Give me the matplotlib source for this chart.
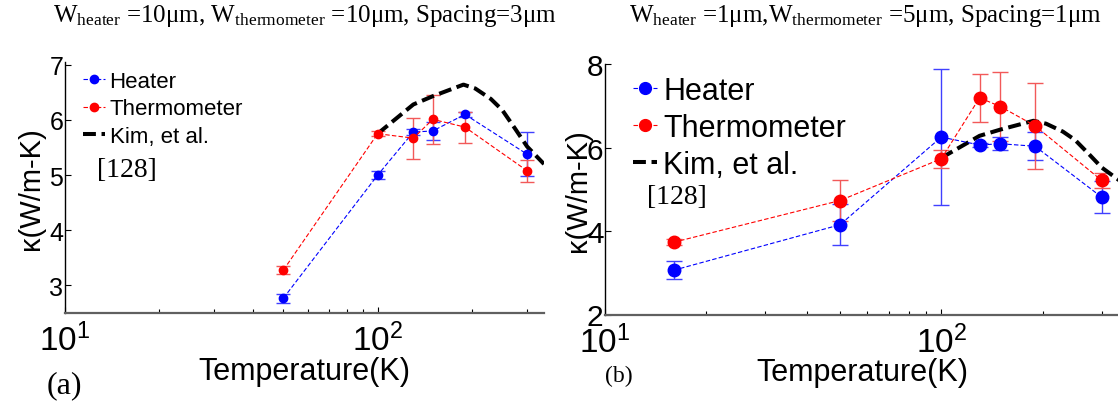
import numpy as np
import matplotlib
matplotlib.use("Agg")
import matplotlib.pyplot as plt
from matplotlib.lines import Line2D

plt.rcParams["font.family"] = ["Liberation Sans", "DejaVu Sans"]
plt.rcParams["mathtext.fontset"] = "custom"
plt.rcParams["mathtext.rm"] = "Liberation Serif"
plt.rcParams["mathtext.default"] = "regular"

# (a) Wheater=10um, Wthermometer=10um, spacing 3um
T_a = [50, 100, 130, 150, 190, 300]
heater_a = [2.77, 5.00, 5.78, 5.80, 6.10, 5.38]
heater_a_err = [0.08, 0.07, 0.05, 0.16, 0.05, 0.40]
thermo_a = [3.28, 5.75, 5.67, 6.01, 5.87, 5.08]
thermo_a_err = [0.07, 0.05, 0.37, 0.45, 0.28, 0.20]

# (b) Wheater=1um, Wthermometer=5um, spacing 1um
T_b = [16, 50, 100, 130, 150, 190, 300]
heater_b = [3.06, 4.15, 6.25, 6.06, 6.09, 6.03, 4.81]
heater_b_err = [0.21, 0.49, 1.62, 0.04, 0.16, 0.34, 0.38]
thermo_b = [3.73, 4.73, 5.73, 7.19, 6.98, 6.52, 5.21]
thermo_b_err = [0.07, 0.48, 0.21, 0.57, 0.82, 1.03, 0.18]

# Kim, et al. [128]
kim_T = [100, 130, 150, 188, 205, 230, 250, 275, 300, 340]
kim_k = [5.75, 6.28, 6.43, 6.64, 6.57, 6.38, 6.18, 5.84, 5.52, 5.20]

titles = [r"W$_{\mathrm{heater}}$ =10μm, W$_{\mathrm{thermometer}}$ =10μm, Spacing=3μm",
          r"W$_{\mathrm{heater}}$ =1μm,W$_{\mathrm{thermometer}}$ =5μm, Spacing=1μm"]

W, H = 1118, 402
fig = plt.figure(figsize=(W / 100, H / 100), dpi=100)


def px_axes(x0, x1, ytop, ybot):
    return fig.add_axes([x0 / W, 1 - ybot / H, (x1 - x0) / W, (ybot - ytop) / H])


data_line = (0, (4, 2))
kim_dash = (0, (3.2, 1.4))

panels = [
    dict(box=(64.7, 544, 63.0, 314), T=T_a, h=heater_a, he=heater_a_err, t=thermo_a, te=thermo_a_err,
         ylim=(2.5, 7.05), yticks=[3, 4, 5, 6, 7], ms=6, cap=4.7, ytick_fs=18, xtick_fs=24,
         leg_fs=16, leg_anchor=(0.038, 0.965), leg_hl=1.0, leg_sp=0.3, leg_ms=6,
         ref=(127, 171, 20), lab_x=-0.042, title_x=305, panel=("(a)", 64, 386, 23)),
    dict(box=(605, 1120, 65.0, 315.5), T=T_b, h=heater_b, he=heater_b_err, t=thermo_b, te=thermo_b_err,
         ylim=(2, 8), yticks=[2, 4, 6, 8], ms=9, cap=5.5, ytick_fs=21.5, xtick_fs=24,
         leg_fs=22, leg_anchor=(0.054, 0.953), leg_hl=0.8, leg_sp=0.23, leg_ms=8.5,
         ref=(677, 197, 20), lab_x=-0.026, title_x=865, panel=("(b)", 619, 376, 17)),
]

for i, p in enumerate(panels):
    ax = px_axes(*p["box"])
    ax.errorbar(p["T"], p["h"], yerr=p["he"], color="blue", ls=data_line, lw=0.8,
                marker="o", ms=p["ms"], capsize=p["cap"], elinewidth=1.0, ecolor=(0.25, 0.25, 1.0))
    ax.errorbar(p["T"], p["t"], yerr=p["te"], color="red", ls=data_line, lw=0.8,
                marker="o", ms=p["ms"], capsize=p["cap"], elinewidth=1.0, ecolor=(0.95, 0.35, 0.35))
    ax.plot(kim_T, kim_k, color="black", lw=2.9, ls=kim_dash)

    ax.set_xscale("log")
    ax.set_xlim(10, 340)
    ax.set_ylim(*p["ylim"])
    ax.set_yticks(p["yticks"])
    ax.set_xticks([10, 100])

    for s in ["top", "right"]:
        ax.spines[s].set_visible(False)
    ax.spines["bottom"].set_color("#606060")
    ax.spines["bottom"].set_linewidth(1.6)
    ax.spines["left"].set_linewidth(1.0)
    ax.tick_params(axis="y", which="both", direction="in", length=4, width=0.8,
                   labelsize=p["ytick_fs"], pad=1)
    ax.tick_params(axis="x", which="major", direction="in", length=4, width=0.8,
                   labelsize=p["xtick_fs"], pad=7)
    ax.tick_params(axis="x", which="minor", direction="in", length=3, width=0.8)

    ax.set_ylabel("κ(W/m-K)", fontsize=21)
    ax.yaxis.set_label_coords(p["lab_x"], 0.5)
    ax.set_xlabel("Temperature(K)", fontsize=22)
    ax.xaxis.set_label_coords(0.5, -0.17)

    handles = [
        Line2D([], [], color="blue", ls=data_line, lw=0.8, marker="o", ms=p["leg_ms"]),
        Line2D([], [], color="red", ls=data_line, lw=0.8, marker="o", ms=p["leg_ms"]),
        Line2D([], [], color="black", lw=2.9, ls=kim_dash),
    ]
    ax.legend(handles, ["Heater", "Thermometer", "Kim, et al."], loc="upper left",
              bbox_to_anchor=p["leg_anchor"], frameon=False, fontsize=p["leg_fs"],
              handlelength=p["leg_hl"], handletextpad=0.2, labelspacing=p["leg_sp"],
              borderpad=0, borderaxespad=0)

    rx, ry, rfs = p["ref"]
    fig.text(rx / W, 1 - ry / H, "[128]", family="Liberation Serif", fontsize=rfs,
             ha="center", va="center")
    lab, lx, ly, lfs = p["panel"]
    fig.text(lx / W, 1 - ly / H, lab, family="Liberation Serif", fontsize=lfs,
             ha="center", va="center")
    fig.text(p["title_x"] / W, 1 - 22 / H, titles[i], family="Liberation Serif",
             fontsize=18, ha="center", va="baseline")

fig.savefig("out.png", dpi=100)
